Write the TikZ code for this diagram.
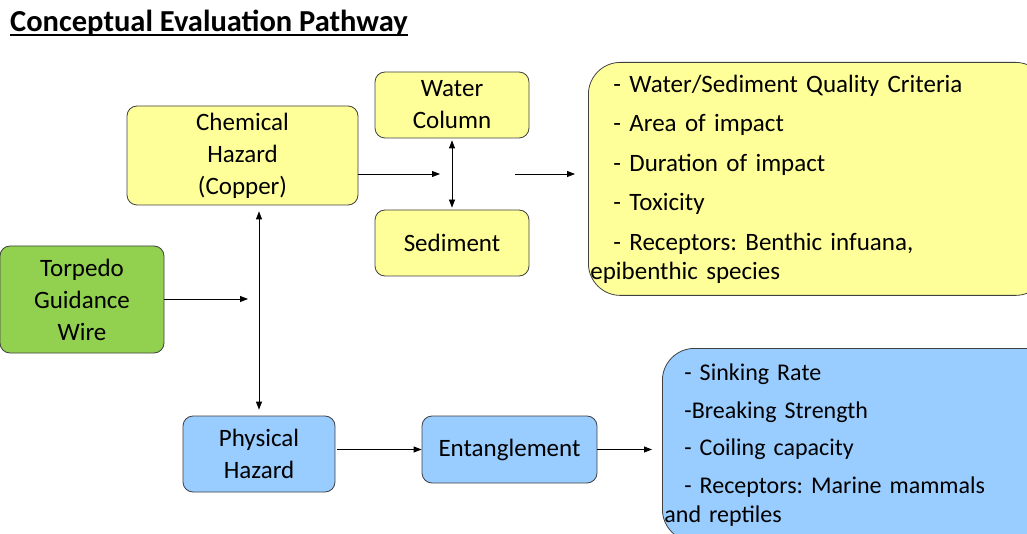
\documentclass[tikz,border=0pt]{standalone}
\usepackage{fontspec}
\setmainfont{Carlito}
\usetikzlibrary{arrows.meta}
\definecolor{chemyellow}{HTML}{FFFF99}
\definecolor{wiregreen}{HTML}{92D050}
\definecolor{physblue}{HTML}{99CCFF}
\definecolor{boxline}{HTML}{404040}
\newcommand{\bul}{\hspace*{23pt}}
\frenchspacing
\tikzset{
  hazard node/.style={draw=boxline,line width=0.8pt,rounded corners=10pt,align=center,inner sep=0pt,font=\fontsize{25}{32}\selectfont},
  list node/.style={draw=boxline,line width=0.8pt,rounded corners=32pt,align=left,inner xsep=2pt,inner ysep=0pt,anchor=north west,font=\fontsize{25}{29}\selectfont},
  link/.style={->,line width=0.8pt}
}

\begin{document}
\begin{tikzpicture}[x=1pt,y=-1pt,>={Triangle[length=8pt,width=6pt]}]
  \useasboundingbox (0,0) rectangle (1027,534);
  \node [anchor=base west,inner sep=0pt,font=\bfseries\fontsize{30.5}{34}\selectfont] (title) at (10,31.5) {Conceptual Evaluation Pathway};
  \draw [line width=1.8pt] ([yshift=-3.5pt]title.base west) -- ([yshift=-3.5pt]title.base east);

  \node [hazard node,fill=chemyellow,minimum width=231pt,minimum height=99pt] (chem) at (242.5,155.5) {Chemical\\Hazard\\(Copper)};
  \node [hazard node,fill=chemyellow,minimum width=154pt,minimum height=66pt] (water) at (452,105) {Water\\Column};
  \node [hazard node,fill=chemyellow,minimum width=154pt,minimum height=66pt] (sed) at (452,243) {Sediment};
  \node [hazard node,fill=wiregreen,minimum width=164pt,minimum height=107pt] (wire) at (82,299.5) {Torpedo\\Guidance\\Wire};
  \node [hazard node,fill=physblue,minimum width=152pt,minimum height=76pt] (phys) at (259,454) {Physical\\Hazard};
  \node [hazard node,fill=physblue,minimum width=175pt,minimum height=67pt] (tangle) at (509.5,449.5) {Entanglement};

  \node [list node,fill=chemyellow,text width=455pt,minimum height=233pt,yshift=-1pt] (crit) at (588,61)
    {\bul- Water/Sediment Quality Criteria\\[10.5pt]
     \bul- Area of impact\\[10.5pt]
     \bul- Duration of impact\\[10.5pt]
     \bul- Toxicity\\[10.5pt]
     \bul- Receptors: Benthic infuana,\\
     epibenthic species};
  \node [list node,fill=physblue,text width=455pt,minimum height=193pt,font=\fontsize{24}{29}\selectfont] (factors) at (662,348)
    {\hspace*{20pt}- Sinking Rate\\[8.5pt]
     \hspace*{20pt}-Breaking Strength\\[8.5pt]
     \hspace*{20pt}- Coiling capacity\\[8.5pt]
     \hspace*{20pt}- Receptors: Marine mammals\\
     and reptiles};

  % chemical pathway
  \coordinate (chemstop) at (440,174);
  \coordinate (critfrom) at (515,174);
  \draw [link] (chem.east |- chemstop) -- (chemstop);
  \draw [<->,line width=0.8pt,shorten <=2pt,shorten >=2pt] (water) -- (sed);
  \draw [link,shorten >=13pt] (critfrom) -- (crit.west |- critfrom);

  % wire splits into both hazards
  \coordinate (wirestop) at (248,299);
  \draw [link] (wire.east |- wirestop) -- (wirestop);
  \draw [<->,line width=0.8pt,shorten <=6pt,shorten >=6pt] (phys.north) -- (phys.north |- chem.south);

  % physical pathway
  \draw [link,shorten <=2pt] (phys.east |- tangle) -- (tangle.west);
  \draw [link,shorten >=10pt] (tangle.east) -- (factors.west |- tangle);
\end{tikzpicture}
\end{document}
